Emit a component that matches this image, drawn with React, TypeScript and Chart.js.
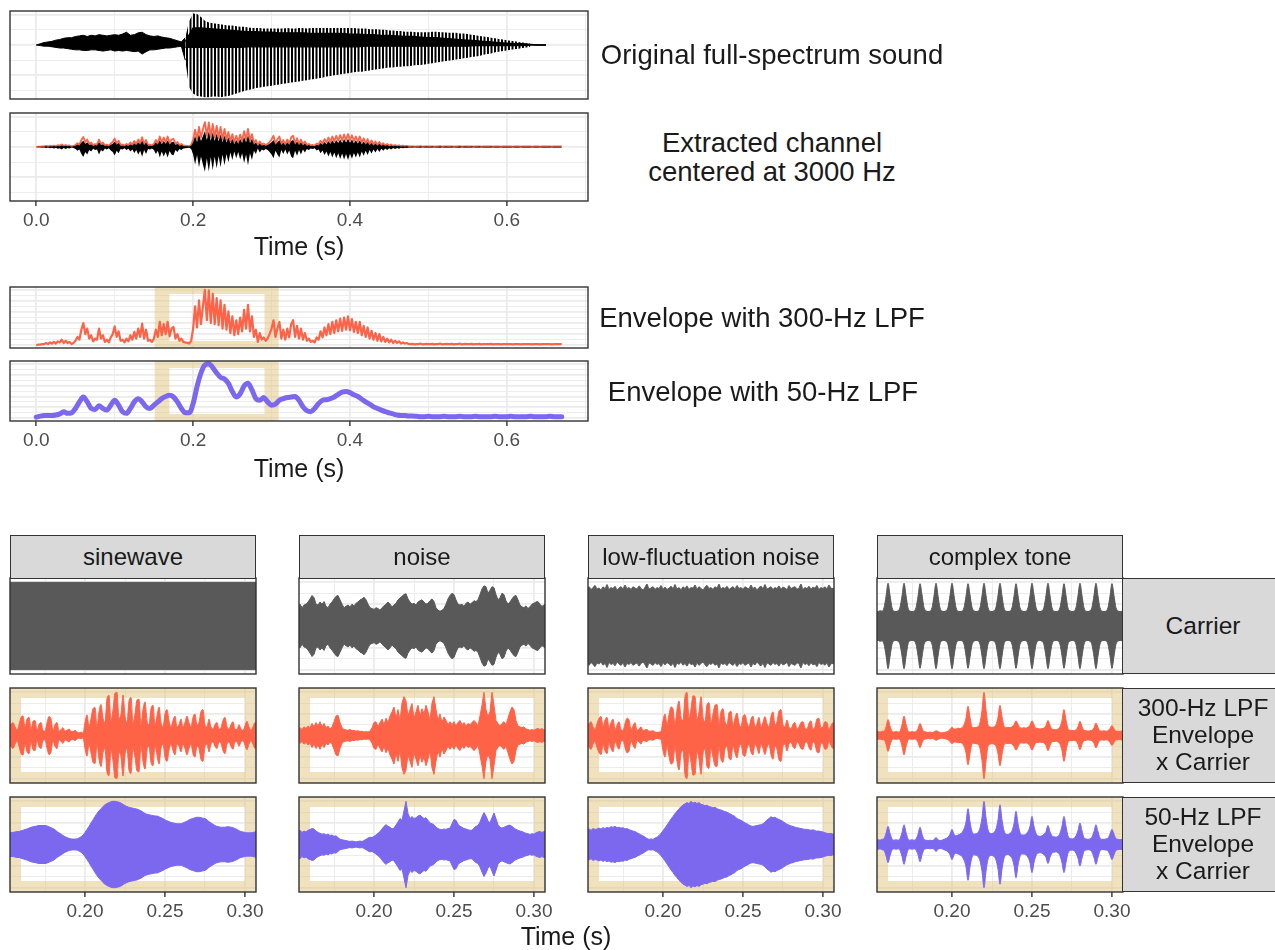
import React, { useEffect, useRef } from "react";
import { Chart, registerables } from "chart.js";

Chart.register(...registerables);

const FONT = '"Liberation Sans", Arial, Helvetica, sans-serif';
Chart.defaults.font.family = FONT;

// ======================= DATA =======================
// Top panels: time axis 0 .. 0.67 s
const TOP_STEP = 0.005;
// Original full-spectrum sound: upper / lower extent (0 .. 0.65 s, step 0.005)
const ORIG_HI = [
  0, 0.02, 0.04, 0.05, 0.06, 0.08, 0.09, 0.11, 0.12, 0.12,
  0.14, 0.15, 0.16, 0.14, 0.16, 0.15, 0.17, 0.16, 0.15, 0.16,
  0.17, 0.16, 0.18, 0.21, 0.16, 0.17, 0.2, 0.21, 0.17, 0.15,
  0.14, 0.15, 0.13, 0.12, 0.11, 0.09, 0.07, 0.05, 0.12, 0.4,
  0.52, 0.51, 0.46, 0.4, 0.37, 0.36, 0.35, 0.34, 0.33, 0.32,
  0.32, 0.31, 0.3, 0.3, 0.29, 0.28, 0.28, 0.28, 0.27, 0.27,
  0.27, 0.27, 0.27, 0.27, 0.28, 0.27, 0.27, 0.28, 0.28, 0.27,
  0.28, 0.28, 0.28, 0.28, 0.28, 0.28, 0.28, 0.28, 0.28, 0.28,
  0.28, 0.28, 0.27, 0.27, 0.27, 0.26, 0.26, 0.26, 0.25, 0.25,
  0.24, 0.24, 0.23, 0.23, 0.22, 0.22, 0.22, 0.21, 0.21, 0.21,
  0.21, 0.22, 0.22, 0.21, 0.21, 0.2, 0.2, 0.2, 0.19, 0.19,
  0.18, 0.17, 0.16, 0.15, 0.14, 0.13, 0.12, 0.11, 0.1, 0.09,
  0.08, 0.07, 0.06, 0.05, 0.04, 0.03, 0.02, 0, 0, 0, 0,
];
const ORIG_LO = [
  0, -0.01, -0.02, -0.02, -0.03, -0.04, -0.05, -0.05, -0.06, -0.07,
  -0.08, -0.08, -0.09, -0.09, -0.08, -0.08, -0.09, -0.1, -0.09, -0.08,
  -0.1, -0.09, -0.1, -0.09, -0.1, -0.11, -0.1, -0.15, -0.11, -0.08,
  -0.08, -0.07, -0.06, -0.05, -0.05, -0.04, -0.03, -0.02, -0.25, -0.7,
  -0.8, -0.84, -0.85, -0.86, -0.86, -0.85, -0.85, -0.86, -0.85, -0.84,
  -0.82, -0.8, -0.78, -0.76, -0.74, -0.73, -0.71, -0.7, -0.69, -0.68,
  -0.67, -0.66, -0.65, -0.64, -0.63, -0.62, -0.61, -0.6, -0.59, -0.58,
  -0.57, -0.56, -0.55, -0.54, -0.52, -0.51, -0.5, -0.49, -0.48, -0.47,
  -0.46, -0.45, -0.44, -0.44, -0.43, -0.42, -0.41, -0.4, -0.39, -0.38,
  -0.37, -0.37, -0.36, -0.36, -0.35, -0.35, -0.34, -0.33, -0.33, -0.32,
  -0.31, -0.3, -0.29, -0.28, -0.27, -0.26, -0.25, -0.24, -0.23, -0.22,
  -0.21, -0.2, -0.19, -0.18, -0.16, -0.15, -0.14, -0.12, -0.11, -0.1,
  -0.09, -0.08, -0.07, -0.06, -0.05, -0.04, -0.03, 0, 0, 0, 0,
];
const ORIG_VOICED_START = 0.19; // index 38 in the arrays above
const ORIG_VOICED_END = 0.63; // index 126
// dense (solid) core of the voiced part, 0.19 .. 0.65 s, step 0.01
const CORE_STEP = 0.01;
const ORIG_CORE_HI = [
  0.06, 0.28, 0.28, 0.27, 0.26, 0.25, 0.24, 0.23, 0.22, 0.22,
  0.21, 0.21, 0.2, 0.2, 0.2, 0.2, 0.19, 0.19, 0.19, 0.19,
  0.19, 0.18, 0.18, 0.17, 0.17, 0.16, 0.16, 0.15, 0.14, 0.14,
  0.13, 0.12, 0.12, 0.11, 0.1, 0.09, 0.08, 0.07, 0.06, 0.05,
  0.04, 0.03, 0.02, 0.02, 0.01, 0, 0,
];
const ORIG_CORE_LO = [
  -0.04, -0.04, -0.04, -0.04, -0.04, -0.04, -0.04, -0.04, -0.03, -0.03,
  -0.03, -0.03, -0.03, -0.03, -0.03, -0.03, -0.03, -0.03, -0.03, -0.03,
  -0.03, -0.03, -0.03, -0.02, -0.02, -0.02, -0.02, -0.02, -0.02, -0.02,
  -0.02, -0.02, -0.02, -0.02, -0.02, -0.02, -0.02, -0.01, -0.01, -0.01,
  -0.01, -0.01, -0.01, -0.01, 0, 0, 0,
];

// Envelope with 300-Hz LPF (0 .. 0.67 s, step 0.0025)
const ENV300_STEP = 0.0025;
const ENV300 = [
  0.0, 0.01, 0.01, 0.02, 0.02, 0.04, 0.02, 0.05, 0.03, 0.06,
  0.03, 0.07, 0.05, 0.1, 0.04, 0.08, 0.04, 0.06, 0.02, 0.04,
  0.08, 0.15, 0.1, 0.28, 0.4, 0.2, 0.3, 0.12, 0.18, 0.07,
  0.12, 0.1, 0.3, 0.12, 0.18, 0.06, 0.1, 0.05, 0.14, 0.2,
  0.34, 0.15, 0.25, 0.08, 0.1, 0.05, 0.12, 0.07, 0.18, 0.1,
  0.24, 0.12, 0.3, 0.15, 0.39, 0.12, 0.28, 0.08, 0.1, 0.06,
  0.12, 0.28, 0.15, 0.42, 0.18, 0.38, 0.2, 0.42, 0.16, 0.3,
  0.33, 0.12, 0.2, 0.08, 0.12, 0.06, 0.05, 0.04, 0.03, 0.08,
  0.3, 0.7, 0.32, 0.81, 0.38, 0.7, 1.0, 0.45, 0.99, 0.4,
  0.93, 0.38, 0.85, 0.36, 0.81, 0.3, 0.73, 0.28, 0.61, 0.22,
  0.52, 0.18, 0.45, 0.2, 0.5, 0.25, 0.64, 0.3, 0.73, 0.25,
  0.52, 0.15, 0.28, 0.06, 0.22, 0.1, 0.14, 0.08, 0.12, 0.2,
  0.3, 0.45, 0.15, 0.3, 0.42, 0.12, 0.28, 0.1, 0.3, 0.14,
  0.38, 0.45, 0.15, 0.35, 0.12, 0.3, 0.1, 0.22, 0.08, 0.12,
  0.06, 0.08, 0.05, 0.14, 0.1, 0.25, 0.14, 0.32, 0.18, 0.38,
  0.2, 0.42, 0.22, 0.45, 0.25, 0.48, 0.26, 0.5, 0.28, 0.52,
  0.27, 0.47, 0.24, 0.42, 0.22, 0.42, 0.18, 0.35, 0.15, 0.32,
  0.12, 0.26, 0.1, 0.22, 0.08, 0.2, 0.07, 0.15, 0.06, 0.12,
  0.05, 0.1, 0.04, 0.08, 0.04, 0.07, 0.03, 0.05, 0.03, 0.04,
  0.02, 0.02, 0.025, 0.015, 0.02, 0.02, 0.03, 0.015, 0.02, 0.025,
  0.02, 0.02, 0.025, 0.015, 0.02, 0.02, 0.03, 0.015, 0.02, 0.025,
  0.02, 0.02, 0.025, 0.015, 0.02, 0.02, 0.03, 0.015, 0.02, 0.025,
  0.02, 0.02, 0.025, 0.015, 0.02, 0.02, 0.025, 0.015, 0.02, 0.02,
  0.02, 0.02, 0.025, 0.015, 0.02, 0.02, 0.02, 0.015, 0.02, 0.02,
  0.02, 0.02, 0.02, 0.015, 0.02, 0.02, 0.02, 0.015, 0.02, 0.02,
  0.02, 0.02, 0.02, 0.015, 0.02, 0.02, 0.02, 0.015, 0.02, 0.02,
  0.02, 0.02, 0.02, 0.015, 0.02, 0.02, 0.02, 0.02, 0.02,
];
const RED_GAIN = 0.41;
const CH_UP_GAIN = 0.26;
const CH_DOWN_GAIN = 0.41;

// Envelope with 50-Hz LPF (0 .. 0.67 s, step 0.005)
const ENV50_STEP = 0.005;
const ENV50 = [
  0.02, 0.04, 0.05, 0.05, 0.05, 0.06, 0.08, 0.12, 0.09, 0.1,
  0.18, 0.3, 0.39, 0.3, 0.18, 0.16, 0.23, 0.18, 0.15, 0.24,
  0.33, 0.24, 0.12, 0.09, 0.18, 0.3, 0.36, 0.3, 0.21, 0.18,
  0.24, 0.3, 0.36, 0.4, 0.42, 0.39, 0.3, 0.18, 0.1, 0.1,
  0.27, 0.58, 0.83, 0.98, 1.0, 0.93, 0.83, 0.75, 0.72, 0.64,
  0.49, 0.39, 0.45, 0.59, 0.64, 0.52, 0.36, 0.33, 0.38, 0.3,
  0.24, 0.26, 0.33, 0.36, 0.38, 0.39, 0.4, 0.33, 0.21, 0.14,
  0.12, 0.18, 0.27, 0.33, 0.34, 0.36, 0.39, 0.44, 0.48, 0.49,
  0.47, 0.43, 0.4, 0.35, 0.3, 0.26, 0.21, 0.18, 0.15, 0.12,
  0.1, 0.08, 0.06, 0.05, 0.05, 0.04, 0.04,
  0.035, 0.03, 0.03, 0.035, 0.03, 0.03, 0.03, 0.035, 0.03, 0.03,
  0.03, 0.035, 0.03, 0.03, 0.03, 0.035, 0.03, 0.03, 0.03, 0.03,
  0.035, 0.03, 0.03, 0.03, 0.035, 0.03, 0.03, 0.03, 0.03, 0.035,
  0.03, 0.03, 0.03, 0.03, 0.035, 0.03, 0.03, 0.03,
];

// Bottom panels: 0.1525 .. 0.3075 s, step 0.00125 (amplitude of the symmetric waveform)
const ZOOM_T0 = 0.1525;
const ZOOM_STEP = 0.00125;
const SINE_CARRIER = [1.0, 1.0]; // constant-amplitude sinewave (start, end)
const NOISE_CARRIER = [
  0.45, 0.5, 0.42, 0.48, 0.5, 0.55, 0.62, 0.7, 0.65, 0.5,
  0.48, 0.55, 0.5, 0.56, 0.45, 0.42, 0.5, 0.55, 0.62, 0.68,
  0.7, 0.6, 0.5, 0.42, 0.45, 0.48, 0.44, 0.5, 0.46, 0.52,
  0.55, 0.6, 0.62, 0.66, 0.6, 0.5, 0.42, 0.4, 0.38, 0.42,
  0.4, 0.36, 0.42, 0.46, 0.5, 0.55, 0.5, 0.44, 0.48, 0.52,
  0.6, 0.64, 0.68, 0.72, 0.74, 0.62, 0.55, 0.5, 0.52, 0.48,
  0.55, 0.58, 0.6, 0.55, 0.5, 0.52, 0.58, 0.62, 0.56, 0.42,
  0.36, 0.34, 0.36, 0.4, 0.5, 0.62, 0.7, 0.75, 0.72, 0.6,
  0.5, 0.48, 0.5, 0.45, 0.52, 0.55, 0.5, 0.53, 0.58, 0.56,
  0.6, 0.72, 0.85, 0.92, 0.9, 0.75, 0.82, 0.9, 0.88, 0.72,
  0.6, 0.65, 0.75, 0.72, 0.58, 0.5, 0.55, 0.62, 0.68, 0.7,
  0.6, 0.48, 0.44, 0.42, 0.46, 0.4, 0.44, 0.5, 0.52, 0.55,
  0.56, 0.5, 0.45, 0.48, 0.5,
];
const LOWFL_CARRIER = [
  0.86, 0.9, 0.84, 0.88, 0.93, 0.85, 0.87, 0.83, 0.9, 0.86,
  0.95, 0.84, 0.88, 0.86, 0.91, 0.83, 0.87, 0.9, 0.85, 0.94,
  0.86, 0.88, 0.84, 0.9, 0.87, 0.85, 0.92, 0.86, 0.83, 0.89,
  0.96, 0.85, 0.87, 0.9, 0.84, 0.88, 0.86, 0.93, 0.85, 0.89,
  0.84, 0.87, 0.91, 0.86, 0.95, 0.85, 0.88, 0.83, 0.9, 0.86,
  0.92, 0.84, 0.88, 0.87, 0.94, 0.85, 0.9, 0.86, 0.83, 0.89,
  0.93, 0.86, 0.88, 0.84, 0.9, 0.87, 0.96, 0.85, 0.88, 0.86,
  0.91, 0.84, 0.87, 0.9, 0.85, 0.93, 0.86, 0.88, 0.84, 0.9,
  0.87, 0.85, 0.94, 0.86, 0.89, 0.83, 0.88, 0.91, 0.86, 0.95,
  0.85, 0.87, 0.9, 0.84, 0.88, 0.86, 0.92, 0.85, 0.89, 0.87,
  0.84, 0.93, 0.86, 0.88, 0.9, 0.85, 0.87, 0.96, 0.84, 0.88,
  0.86, 0.91, 0.85, 0.89, 0.87, 0.93, 0.84, 0.88, 0.86, 0.9,
  0.85, 0.94, 0.87, 0.86, 0.89,
];
const COMPLEX_CARRIER = [
  0.34, 0.33, 0.35, 0.34, 0.42, 0.68, 0.98, 0.7, 0.42, 0.34, 0.33, 0.35,
  0.43, 0.69, 0.98, 0.7, 0.41, 0.34, 0.33, 0.34,
  0.42, 0.68, 0.97, 0.71, 0.42, 0.35, 0.33, 0.34,
  0.42, 0.69, 0.98, 0.69, 0.41, 0.34, 0.33, 0.35,
  0.43, 0.7, 0.98, 0.7, 0.42, 0.34, 0.33, 0.34,
  0.42, 0.68, 0.97, 0.71, 0.43, 0.35, 0.33, 0.34,
  0.42, 0.69, 0.98, 0.7, 0.42, 0.34, 0.33, 0.35,
  0.43, 0.7, 0.98, 0.69, 0.41, 0.34, 0.33, 0.34,
  0.42, 0.68, 0.97, 0.7, 0.42, 0.35, 0.33, 0.34,
  0.42, 0.69, 0.98, 0.71, 0.43, 0.34, 0.33, 0.35,
  0.43, 0.7, 0.98, 0.7, 0.42, 0.34, 0.33, 0.34,
  0.42, 0.68, 0.97, 0.7, 0.41, 0.35, 0.33, 0.34,
  0.42, 0.69, 0.98, 0.7, 0.42, 0.34, 0.33, 0.35,
  0.43, 0.7, 0.98, 0.69, 0.42, 0.34, 0.33, 0.34,
  0.42, 0.68, 0.97, 0.7, 0.42, 0.35, 0.33, 0.34, 0.35,
];
const SINE_300 = [
  0.2, 0.26, 0.3, 0.2, 0.12, 0.25, 0.42, 0.45, 0.2, 0.38,
  0.42, 0.15, 0.33, 0.35, 0.12, 0.26, 0.3, 0.12, 0.1, 0.3,
  0.44, 0.38, 0.12, 0.25, 0.3, 0.1, 0.14, 0.18, 0.1, 0.12,
  0.15, 0.1, 0.09, 0.12, 0.08, 0.06, 0.08, 0.05, 0.3, 0.48,
  0.2, 0.4, 0.62, 0.65, 0.2, 0.55, 0.72, 0.4, 0.3, 0.85,
  0.93, 0.35, 0.6, 0.98, 1.0, 0.4, 0.5, 0.94, 0.45, 0.3,
  0.8, 0.88, 0.3, 0.5, 0.82, 0.84, 0.25, 0.6, 0.78, 0.35,
  0.25, 0.62, 0.7, 0.25, 0.45, 0.66, 0.3, 0.2, 0.5, 0.6,
  0.35, 0.2, 0.35, 0.45, 0.2, 0.25, 0.38, 0.2, 0.3, 0.45,
  0.3, 0.2, 0.42, 0.5, 0.25, 0.3, 0.55, 0.6, 0.25, 0.2,
  0.38, 0.2, 0.15, 0.25, 0.3, 0.15, 0.18, 0.35, 0.42, 0.2,
  0.15, 0.25, 0.32, 0.15, 0.14, 0.25, 0.15, 0.12, 0.22, 0.33,
  0.2, 0.12, 0.2, 0.3, 0.25,
];
const NOISE_300 = [
  0.15, 0.18, 0.14, 0.2, 0.16, 0.22, 0.18,
  0.28, 0.2, 0.3, 0.22, 0.32, 0.2, 0.28, 0.18, 0.22, 0.15,
  0.2, 0.32, 0.45, 0.47, 0.3, 0.18, 0.14,
  0.13, 0.12, 0.14, 0.11, 0.12, 0.1, 0.11, 0.09, 0.1, 0.08, 0.09, 0.08, 0.1,
  0.18, 0.3, 0.32, 0.2, 0.3, 0.38, 0.25, 0.4, 0.3,
  0.45, 0.55, 0.66, 0.4, 0.6, 0.35, 0.75, 0.9,
  0.8, 0.45, 0.6, 0.74, 0.4, 0.55, 0.7,
  0.45, 0.62, 0.5, 0.7, 0.55, 0.35, 0.75, 0.9, 0.6, 0.35,
  0.5, 0.3, 0.43, 0.35, 0.25, 0.32, 0.25, 0.32, 0.22, 0.3,
  0.35, 0.25, 0.3, 0.22, 0.28, 0.25, 0.3, 0.35, 0.3, 0.22, 0.45, 0.7,
  1.0, 0.6, 0.43, 0.55, 1.0, 0.7, 0.35, 0.28,
  0.22, 0.28, 0.32, 0.25, 0.4, 0.55, 0.66, 0.6, 0.35, 0.22,
  0.2, 0.18, 0.2, 0.15, 0.14, 0.12, 0.14, 0.12, 0.15, 0.16, 0.14, 0.16, 0.13, 0.15,
];
const LOWFL_300 = [
  0.22, 0.28, 0.32, 0.2, 0.14, 0.28, 0.4, 0.44, 0.22, 0.36,
  0.42, 0.18, 0.3, 0.38, 0.14, 0.24, 0.32, 0.14, 0.12, 0.28,
  0.4, 0.36, 0.14, 0.22, 0.3, 0.12, 0.15, 0.2, 0.11, 0.13,
  0.14, 0.1, 0.1, 0.11, 0.08, 0.07, 0.08, 0.1,
  0.35, 0.5, 0.25, 0.48, 0.66, 0.62, 0.25, 0.6, 0.8, 0.42,
  0.35, 0.9, 1.0, 0.4, 0.62, 0.92, 0.9, 0.38, 0.55, 0.9,
  0.42, 0.32, 0.72, 0.76, 0.3, 0.5, 0.7, 0.72, 0.26, 0.55,
  0.62, 0.32, 0.25, 0.52, 0.56, 0.24, 0.4, 0.52, 0.28, 0.2,
  0.44, 0.48, 0.3, 0.2, 0.38, 0.45, 0.2, 0.28, 0.42, 0.2,
  0.3, 0.44, 0.28, 0.2, 0.44, 0.55, 0.25, 0.32, 0.56, 0.6,
  0.25, 0.2, 0.36, 0.2, 0.16, 0.26, 0.3, 0.15, 0.2, 0.3,
  0.32, 0.18, 0.15, 0.28, 0.34, 0.15, 0.2, 0.38, 0.4, 0.18,
  0.2, 0.32, 0.3, 0.14, 0.22, 0.3, 0.26,
];
const COMPLEX_300 = [
  0.08, 0.09, 0.08, 0.1, 0.1, 0.2, 0.37, 0.22, 0.1, 0.08, 0.09, 0.08,
  0.1, 0.25, 0.45, 0.26, 0.11, 0.08, 0.09, 0.08,
  0.09, 0.16, 0.28, 0.17, 0.09, 0.08, 0.07, 0.08,
  0.07, 0.08, 0.11, 0.09, 0.07, 0.06, 0.07, 0.08,
  0.1, 0.14, 0.19, 0.15, 0.15, 0.17, 0.16, 0.18,
  0.25, 0.4, 0.68, 0.42, 0.2, 0.18, 0.19, 0.2,
  0.3, 0.58, 1.0, 0.6, 0.25, 0.2, 0.19, 0.2,
  0.25, 0.42, 0.7, 0.44, 0.22, 0.18, 0.19, 0.18,
  0.2, 0.25, 0.34, 0.26, 0.18, 0.17, 0.18, 0.17,
  0.19, 0.24, 0.34, 0.25, 0.17, 0.16, 0.15, 0.16,
  0.17, 0.23, 0.35, 0.24, 0.15, 0.14, 0.13, 0.15,
  0.2, 0.35, 0.6, 0.36, 0.16, 0.12, 0.12, 0.11,
  0.13, 0.2, 0.33, 0.21, 0.12, 0.11, 0.1, 0.11,
  0.12, 0.18, 0.29, 0.19, 0.11, 0.1, 0.11, 0.1,
  0.11, 0.16, 0.23, 0.16, 0.1, 0.1, 0.09, 0.11, 0.1,
];
const SINE_50 = [
  0.27, 0.28, 0.28, 0.29, 0.3, 0.3, 0.32, 0.33, 0.35, 0.36,
  0.38, 0.4, 0.41, 0.42, 0.43, 0.44, 0.44, 0.44, 0.44, 0.43,
  0.41, 0.39, 0.37, 0.34, 0.3, 0.27, 0.24, 0.21, 0.18, 0.16,
  0.14, 0.13, 0.125, 0.125, 0.13, 0.15, 0.18, 0.22, 0.28, 0.35,
  0.42, 0.5, 0.57, 0.65, 0.72, 0.78, 0.83, 0.88, 0.92, 0.95,
  0.97, 0.99, 1.0, 1.0, 0.99, 0.98, 0.96, 0.93, 0.9, 0.88,
  0.86, 0.85, 0.84, 0.83, 0.82, 0.8, 0.78, 0.75, 0.72, 0.7,
  0.69, 0.68, 0.67, 0.66, 0.66, 0.64, 0.62, 0.6, 0.57, 0.55,
  0.53, 0.51, 0.5, 0.49, 0.48, 0.48, 0.48, 0.5, 0.52, 0.54,
  0.57, 0.59, 0.6, 0.62, 0.63, 0.63, 0.62, 0.61, 0.6, 0.57,
  0.53, 0.5, 0.47, 0.44, 0.42, 0.41, 0.4, 0.4, 0.4, 0.41,
  0.41, 0.4, 0.39, 0.37, 0.35, 0.32, 0.3, 0.29, 0.28, 0.27,
  0.27, 0.27, 0.28, 0.29, 0.3,
];
const NOISE_50 = [
  0.3, 0.33, 0.28, 0.31, 0.29, 0.33, 0.35, 0.37, 0.36, 0.31,
  0.28, 0.26, 0.24, 0.25, 0.22, 0.24, 0.21, 0.22, 0.19, 0.2,
  0.16, 0.12, 0.11, 0.1, 0.09, 0.08, 0.07, 0.08, 0.07, 0.06,
  0.07, 0.08, 0.07, 0.09, 0.12, 0.15, 0.17, 0.16, 0.19, 0.22,
  0.26, 0.3, 0.36, 0.42, 0.46, 0.42, 0.4, 0.36, 0.38, 0.45,
  0.52, 0.6, 0.56, 0.78, 1.0, 0.72, 0.6, 0.65, 0.6, 0.62,
  0.66, 0.68, 0.64, 0.6, 0.62, 0.56, 0.5, 0.48, 0.46, 0.4,
  0.37, 0.35, 0.34, 0.36, 0.35, 0.37, 0.38, 0.48, 0.58, 0.56,
  0.47, 0.42, 0.4, 0.37, 0.36, 0.34, 0.33, 0.33, 0.38, 0.42,
  0.44, 0.52, 0.64, 0.74, 0.66, 0.55, 0.5, 0.62, 0.73, 0.6,
  0.46, 0.4, 0.38, 0.4, 0.42, 0.44, 0.45, 0.42, 0.38, 0.35,
  0.33, 0.31, 0.3, 0.28, 0.26, 0.25, 0.23, 0.25, 0.24, 0.27,
  0.29, 0.3, 0.28, 0.3, 0.29,
];
const LOWFL_50 = [
  0.34, 0.36, 0.33, 0.37, 0.35, 0.36, 0.38, 0.36, 0.39, 0.37,
  0.4, 0.38, 0.41, 0.4, 0.42, 0.39, 0.4, 0.38, 0.39, 0.36,
  0.37, 0.34, 0.33, 0.31, 0.3, 0.27, 0.25, 0.22, 0.2, 0.17,
  0.14, 0.12, 0.13, 0.12, 0.15, 0.17, 0.21, 0.26, 0.32, 0.38,
  0.45, 0.52, 0.59, 0.65, 0.72, 0.77, 0.83, 0.87, 0.92, 0.94,
  0.97, 0.95, 1.0, 0.96, 0.98, 0.95, 0.97, 0.93, 0.92, 0.9,
  0.91, 0.88, 0.87, 0.85, 0.86, 0.83, 0.81, 0.8, 0.78, 0.76,
  0.75, 0.72, 0.7, 0.67, 0.65, 0.6, 0.58, 0.56, 0.53, 0.5,
  0.48, 0.45, 0.43, 0.42, 0.43, 0.44, 0.45, 0.46, 0.48, 0.52,
  0.57, 0.6, 0.64, 0.62, 0.63, 0.6, 0.58, 0.56, 0.53, 0.5,
  0.47, 0.45, 0.43, 0.42, 0.4, 0.39, 0.38, 0.37, 0.36, 0.35,
  0.35, 0.34, 0.33, 0.34, 0.32, 0.31, 0.31, 0.3, 0.29, 0.27,
  0.26, 0.25, 0.26, 0.24, 0.25,
];
const COMPLEX_50 = [
  0.1, 0.11, 0.1, 0.12, 0.14, 0.26, 0.42, 0.26, 0.13, 0.1, 0.11, 0.1,
  0.14, 0.28, 0.46, 0.28, 0.13, 0.1, 0.11, 0.1,
  0.13, 0.24, 0.4, 0.24, 0.12, 0.1, 0.09, 0.1,
  0.09, 0.11, 0.16, 0.11, 0.09, 0.1, 0.12, 0.14,
  0.17, 0.24, 0.35, 0.24, 0.2, 0.22, 0.24, 0.28,
  0.36, 0.52, 0.83, 0.52, 0.3, 0.24, 0.25, 0.28,
  0.38, 0.62, 1.0, 0.62, 0.34, 0.26, 0.25, 0.28,
  0.36, 0.57, 0.92, 0.57, 0.32, 0.24, 0.23, 0.26,
  0.32, 0.48, 0.77, 0.48, 0.28, 0.22, 0.22, 0.24,
  0.3, 0.42, 0.65, 0.42, 0.26, 0.2, 0.19, 0.2,
  0.24, 0.3, 0.44, 0.3, 0.2, 0.18, 0.17, 0.19,
  0.26, 0.42, 0.65, 0.42, 0.2, 0.14, 0.13, 0.14,
  0.2, 0.32, 0.5, 0.32, 0.16, 0.13, 0.12, 0.13,
  0.18, 0.3, 0.46, 0.3, 0.15, 0.12, 0.12, 0.13,
  0.15, 0.24, 0.35, 0.24, 0.14, 0.12, 0.11, 0.12, 0.13,
];

// Axis ticks / grid lines
const TOP_X_GRID = [0, 0.1, 0.2, 0.3, 0.4, 0.5, 0.6, 0.7];
const TOP_X_LABELS = [0, 0.2, 0.4, 0.6];
const WAVE_Y_GRID = [-0.75, -0.5, -0.25, 0, 0.25, 0.5];
const WAVE_Y_MAJOR = [-0.5, 0, 0.5];
const ENV_Y_GRID = [0, 0.1, 0.2, 0.3, 0.4, 0.5, 0.6, 0.7, 0.8, 0.9, 1.0];
const ENV_Y_MAJOR = [0, 0.2, 0.4, 0.6, 0.8, 1.0];
const ZOOM_X_GRID = [0.175, 0.2, 0.225, 0.25, 0.275, 0.3];
const ZOOM_X_LABELS = [0.2, 0.25, 0.3];
const ZOOM_Y_GRID = [-1, -0.75, -0.5, -0.25, 0, 0.25, 0.5, 0.75, 1];
const ZOOM_Y_MAJOR = [-1, -0.5, 0, 0.5, 1];

const COLUMNS = ["sinewave", "noise", "low-fluctuation noise", "complex tone"];
const ROWS = ["Carrier", "300-Hz LPF\nEnvelope\nx Carrier", "50-Hz LPF\nEnvelope\nx Carrier"];
const ROW_COLORS = ["#595959", "#FF6347", "#7B68EE"];
const GRID_DATA = [
  [SINE_CARRIER, NOISE_CARRIER, LOWFL_CARRIER, COMPLEX_CARRIER],
  [SINE_300, NOISE_300, LOWFL_300, COMPLEX_300],
  [SINE_50, NOISE_50, LOWFL_50, COMPLEX_50],
];

// ======================= LAYOUT =======================
const COL_X = [10, 299, 588, 877];
const COL_W = 246;
const ROW_TOP = [578, 688, 797];
const ROW_H = [96, 95, 95];
const TAN = "rgba(226, 196, 128, 0.5)";

const PAD_L = 34, PAD_R = 34, PAD_T = 3, PAD_B = 3, AXIS_H = 36;

// ======================= HELPERS =======================
const pts = (t0: number, step: number, vals: number[], gain = 1) =>
  vals.map((v, i) => ({ x: t0 + i * step, y: v * gain }));

const near = (v: any, list: number[]) =>
  typeof v === "number" && list.some((m) => Math.abs(m - v) < 1e-6);

function band(hi: any[], lo: any[], color: any, order: number, border = 0, smooth = false) {
  const bc = border > 0 ? (typeof color === "string" ? color : "#000") : "rgba(0,0,0,0)";
  const common: any = {
    pointRadius: 0,
    borderWidth: border > 0 ? border : 1,
    borderColor: bc,
    order,
    cubicInterpolationMode: smooth ? "monotone" : "default",
  };
  return [
    { ...common, data: hi, fill: "+1", backgroundColor: color },
    { ...common, data: lo, fill: false, backgroundColor: "rgba(0,0,0,0)" },
  ];
}

const tanPlugin = {
  id: "tanFrame",
  beforeDatasetsDraw(chart: any, _args: any, o: any) {
    if (!o || o.inX0 === undefined) return;
    const { ctx, chartArea: a, scales } = chart;
    const xs = scales.x;
    const ox0 = o.outX0 === undefined ? a.left : Math.max(a.left, xs.getPixelForValue(o.outX0));
    const ox1 = o.outX1 === undefined ? a.right : Math.min(a.right, xs.getPixelForValue(o.outX1));
    const ix0 = xs.getPixelForValue(o.inX0);
    const ix1 = xs.getPixelForValue(o.inX1);
    ctx.save();
    ctx.beginPath();
    ctx.rect(ox0, a.top, ox1 - ox0, a.bottom - a.top);
    ctx.rect(ix0, a.top + o.insetTop, ix1 - ix0, a.bottom - a.top - o.insetTop - o.insetBottom);
    ctx.fillStyle = TAN;
    ctx.fill("evenodd");
    ctx.restore();
  },
};

const borderPlugin = {
  id: "panelBorder",
  afterDraw(chart: any) {
    const { ctx, chartArea: a } = chart;
    ctx.save();
    ctx.strokeStyle = "#333333";
    ctx.lineWidth = 1.4;
    ctx.strokeRect(a.left, a.top, a.right - a.left, a.bottom - a.top);
    ctx.restore();
  },
};

type Spec = {
  left: number; top: number; width: number; height: number;
  xMin: number; xMax: number; xGrid: number[]; xMajor: number[]; xLabels?: number[]; xDigits: number;
  yMin: number; yMax: number; yGrid: number[]; yMajor: number[];
  datasets: (ctx: CanvasRenderingContext2D) => any[];
  tan?: any;
};

function makeConfig(s: Spec, ctx2d: CanvasRenderingContext2D): any {
  const showAxis = !!s.xLabels;
  return {
    type: "line",
    data: { datasets: s.datasets(ctx2d) },
    options: {
      responsive: false,
      animation: false,
      events: [],
      layout: { padding: { left: PAD_L, right: PAD_R, top: PAD_T, bottom: PAD_B } },
      plugins: {
        legend: { display: false },
        tooltip: { enabled: false },
        tanFrame: s.tan || {},
      },
      scales: {
        x: {
          type: "linear",
          min: s.xMin,
          max: s.xMax,
          afterBuildTicks: (sc: any) => { sc.ticks = s.xGrid.map((v) => ({ value: v })); },
          afterFit: (sc: any) => { sc.height = showAxis ? AXIS_H : 0; },
          ticks: {
            display: showAxis,
            autoSkip: false,
            maxRotation: 0,
            minRotation: 0,
            padding: 3,
            color: "#4D4D4D",
            font: { size: 19, family: FONT },
            callback: (v: any) => (s.xLabels && near(v, s.xLabels) ? Number(v).toFixed(s.xDigits) : ""),
          },
          grid: {
            color: "#EBEBEB",
            lineWidth: (c: any) => (near(c.tick && c.tick.value, s.xMajor) ? 1.8 : 0.9),
            drawTicks: showAxis,
            tickLength: 5,
            tickWidth: 1.4,
            tickColor: (c: any) => (near(c.tick && c.tick.value, s.xMajor) ? "#333333" : "rgba(0,0,0,0)"),
          },
          border: { display: false },
        },
        y: {
          type: "linear",
          min: s.yMin,
          max: s.yMax,
          afterBuildTicks: (sc: any) => { sc.ticks = s.yGrid.map((v) => ({ value: v })); },
          afterFit: (sc: any) => { sc.width = 0; },
          ticks: { display: false },
          grid: {
            color: "#EBEBEB",
            lineWidth: (c: any) => (near(c.tick && c.tick.value, s.yMajor) ? 1.8 : 0.9),
            drawTicks: false,
          },
          border: { display: false },
        },
      },
    },
    plugins: [tanPlugin, borderPlugin],
  };
}

function Panel({ spec }: { spec: Spec }) {
  const ref = useRef<HTMLCanvasElement>(null);
  useEffect(() => {
    const canvas = ref.current!;
    const chart = new Chart(canvas, makeConfig(spec, canvas.getContext("2d")!));
    return () => chart.destroy();
  }, [spec]);
  const axisH = spec.xLabels ? AXIS_H : 0;
  const w = spec.width + PAD_L + PAD_R;
  const h = spec.height + PAD_T + PAD_B + axisH;
  return (
    <canvas
      ref={ref}
      width={w}
      height={h}
      style={{ position: "absolute", left: spec.left - PAD_L, top: spec.top - PAD_T, width: w, height: h }}
    />
  );
}

// ======================= PANEL SPECS =======================
const TOP_X = { xMin: -0.0335, xMax: 0.7035, xGrid: TOP_X_GRID, xMajor: TOP_X_LABELS, xDigits: 1 };
const WAVE_Y = { yMin: -0.89, yMax: 0.56, yGrid: WAVE_Y_GRID, yMajor: WAVE_Y_MAJOR };
const ENV_Y = { yMin: -0.05, yMax: 1.05, yGrid: ENV_Y_GRID, yMajor: ENV_Y_MAJOR };
const ENV_TAN = { outX0: 0.151, outX1: 0.309, inX0: 0.1697, inX1: 0.291, insetTop: 7, insetBottom: 7 };
const ZOOM_TAN = { inX0: 0.16, inX1: 0.3, insetTop: 10, insetBottom: 11 };

const SPECS: Spec[] = [];

// Panel 1: original sound
SPECS.push({
  left: 10, top: 11, width: 578, height: 88, ...TOP_X, ...WAVE_Y,
  datasets: (ctx) => {
    const pc = document.createElement("canvas");
    pc.width = 7;
    pc.height = 2;
    const g = pc.getContext("2d")!;
    g.fillStyle = "#000";
    g.fillRect(0, 0, 2, 2);
    g.fillRect(3.5, 0, 2, 2);
    const stripes = ctx.createPattern(pc, "repeat");
    const iv0 = Math.round(ORIG_VOICED_START / TOP_STEP);
    const iv1 = Math.round(ORIG_VOICED_END / TOP_STEP);
    return [
      ...band(pts(0, TOP_STEP, ORIG_HI.slice(0, iv0 + 1)), pts(0, TOP_STEP, ORIG_LO.slice(0, iv0 + 1)), "#000", 3, 1),
      ...band(
        pts(ORIG_VOICED_START, TOP_STEP, ORIG_HI.slice(iv0, iv1 + 1)),
        pts(ORIG_VOICED_START, TOP_STEP, ORIG_LO.slice(iv0, iv1 + 1)),
        stripes, 2, 0
      ),
      ...band(pts(ORIG_VOICED_START, CORE_STEP, ORIG_CORE_HI), pts(ORIG_VOICED_START, CORE_STEP, ORIG_CORE_LO), "#000", 1, 1.3),
    ];
  },
});

// Panel 2: extracted channel
SPECS.push({
  left: 10, top: 113, width: 578, height: 88, ...TOP_X, xLabels: TOP_X_LABELS, ...WAVE_Y,
  datasets: () => [
    {
      data: pts(0, ENV300_STEP, ENV300, RED_GAIN), borderColor: "#FF6347", borderWidth: 1.8,
      pointRadius: 0, fill: false, order: 2, borderJoinStyle: "round",
    },
    ...band(pts(0, ENV300_STEP, ENV300, CH_UP_GAIN), pts(0, ENV300_STEP, ENV300, -CH_DOWN_GAIN), "#000", 1, 0),
  ],
});

// Panel 3: envelope 300-Hz
SPECS.push({
  left: 10, top: 287, width: 578, height: 61, ...TOP_X, ...ENV_Y, tan: ENV_TAN,
  datasets: () => [
    {
      data: pts(0, ENV300_STEP, ENV300), borderColor: "#FF6347", borderWidth: 2.2,
      pointRadius: 0, fill: false, borderJoinStyle: "round",
    },
  ],
});

// Panel 4: envelope 50-Hz
SPECS.push({
  left: 10, top: 361, width: 578, height: 60, ...TOP_X, xLabels: TOP_X_LABELS, ...ENV_Y, tan: ENV_TAN,
  datasets: () => [
    {
      data: pts(0, ENV50_STEP, ENV50), borderColor: "#7B68EE", borderWidth: 5,
      pointRadius: 0, fill: false, cubicInterpolationMode: "monotone", borderCapStyle: "round", borderJoinStyle: "round",
    },
  ],
});

// Bottom grid
for (let r = 0; r < 3; r++) {
  for (let c = 0; c < 4; c++) {
    const vals = GRID_DATA[r][c];
    const step = vals.length === 2 ? 0.155 : ZOOM_STEP;
    const color = ROW_COLORS[r];
    SPECS.push({
      left: COL_X[c], top: ROW_TOP[r], width: COL_W, height: ROW_H[r],
      xMin: 0.1531, xMax: 0.3069, xGrid: ZOOM_X_GRID, xMajor: ZOOM_X_LABELS,
      xLabels: r === 2 ? ZOOM_X_LABELS : undefined, xDigits: 2,
      yMin: -1.1, yMax: 1.1, yGrid: ZOOM_Y_GRID, yMajor: ZOOM_Y_MAJOR,
      tan: r > 0 ? ZOOM_TAN : undefined,
      datasets: () => band(pts(ZOOM_T0, step, vals), pts(ZOOM_T0, step, vals, -1), color, 1, 1, c !== 1),
    });
  }
}

// ======================= TEXT =======================
const textStyle: React.CSSProperties = {
  position: "absolute",
  transform: "translate(-50%, -50%)",
  whiteSpace: "pre",
  textAlign: "center",
  color: "#1A1A1A",
};

function Label({ x, y, text, size, lh }: { x: number; y: number; text: string; size: number; lh: number }) {
  return <div style={{ ...textStyle, left: x, top: y, fontSize: size, lineHeight: `${lh}px` }}>{text}</div>;
}

export default function App() {
  return (
    <div
      style={{
        position: "absolute", left: 0, top: 0, width: 1275, height: 950, overflow: "hidden",
        background: "#ffffff", fontFamily: FONT,
      }}
    >
      {SPECS.map((s, i) => <Panel key={i} spec={s} />)}

      <Label x={772} y={55} size={27.5} lh={30} text="Original full-spectrum sound" />
      <Label x={772} y={157} size={27.5} lh={29} text={"Extracted channel\ncentered at 3000 Hz"} />
      <Label x={762} y={318} size={27.5} lh={30} text="Envelope with 300-Hz LPF" />
      <Label x={763} y={392} size={27.5} lh={30} text="Envelope with 50-Hz LPF" />
      <Label x={299} y={246} size={25} lh={30} text="Time (s)" />
      <Label x={299} y={468} size={25} lh={30} text="Time (s)" />
      <Label x={566} y={936} size={25} lh={30} text="Time (s)" />

      {COLUMNS.map((name, c) => (
        <div
          key={name}
          style={{
            position: "absolute", left: COL_X[c], top: 535, width: COL_W, height: 44, boxSizing: "border-box",
            background: "#D9D9D9", border: "1.4px solid #333333", display: "flex", alignItems: "center",
            justifyContent: "center", fontSize: 24, color: "#1A1A1A",
          }}
        >
          {name}
        </div>
      ))}
      {ROWS.map((name, r) => (
        <div
          key={name}
          style={{
            position: "absolute", left: 1122, top: ROW_TOP[r], width: 162, height: ROW_H[r], boxSizing: "border-box",
            background: "#D9D9D9", border: "1.4px solid #333333", display: "flex", alignItems: "center",
            justifyContent: "center", fontSize: 24.5, color: "#1A1A1A", whiteSpace: "pre", textAlign: "center",
            lineHeight: "26.7px",
          }}
        >
          {name}
        </div>
      ))}
    </div>
  );
}
